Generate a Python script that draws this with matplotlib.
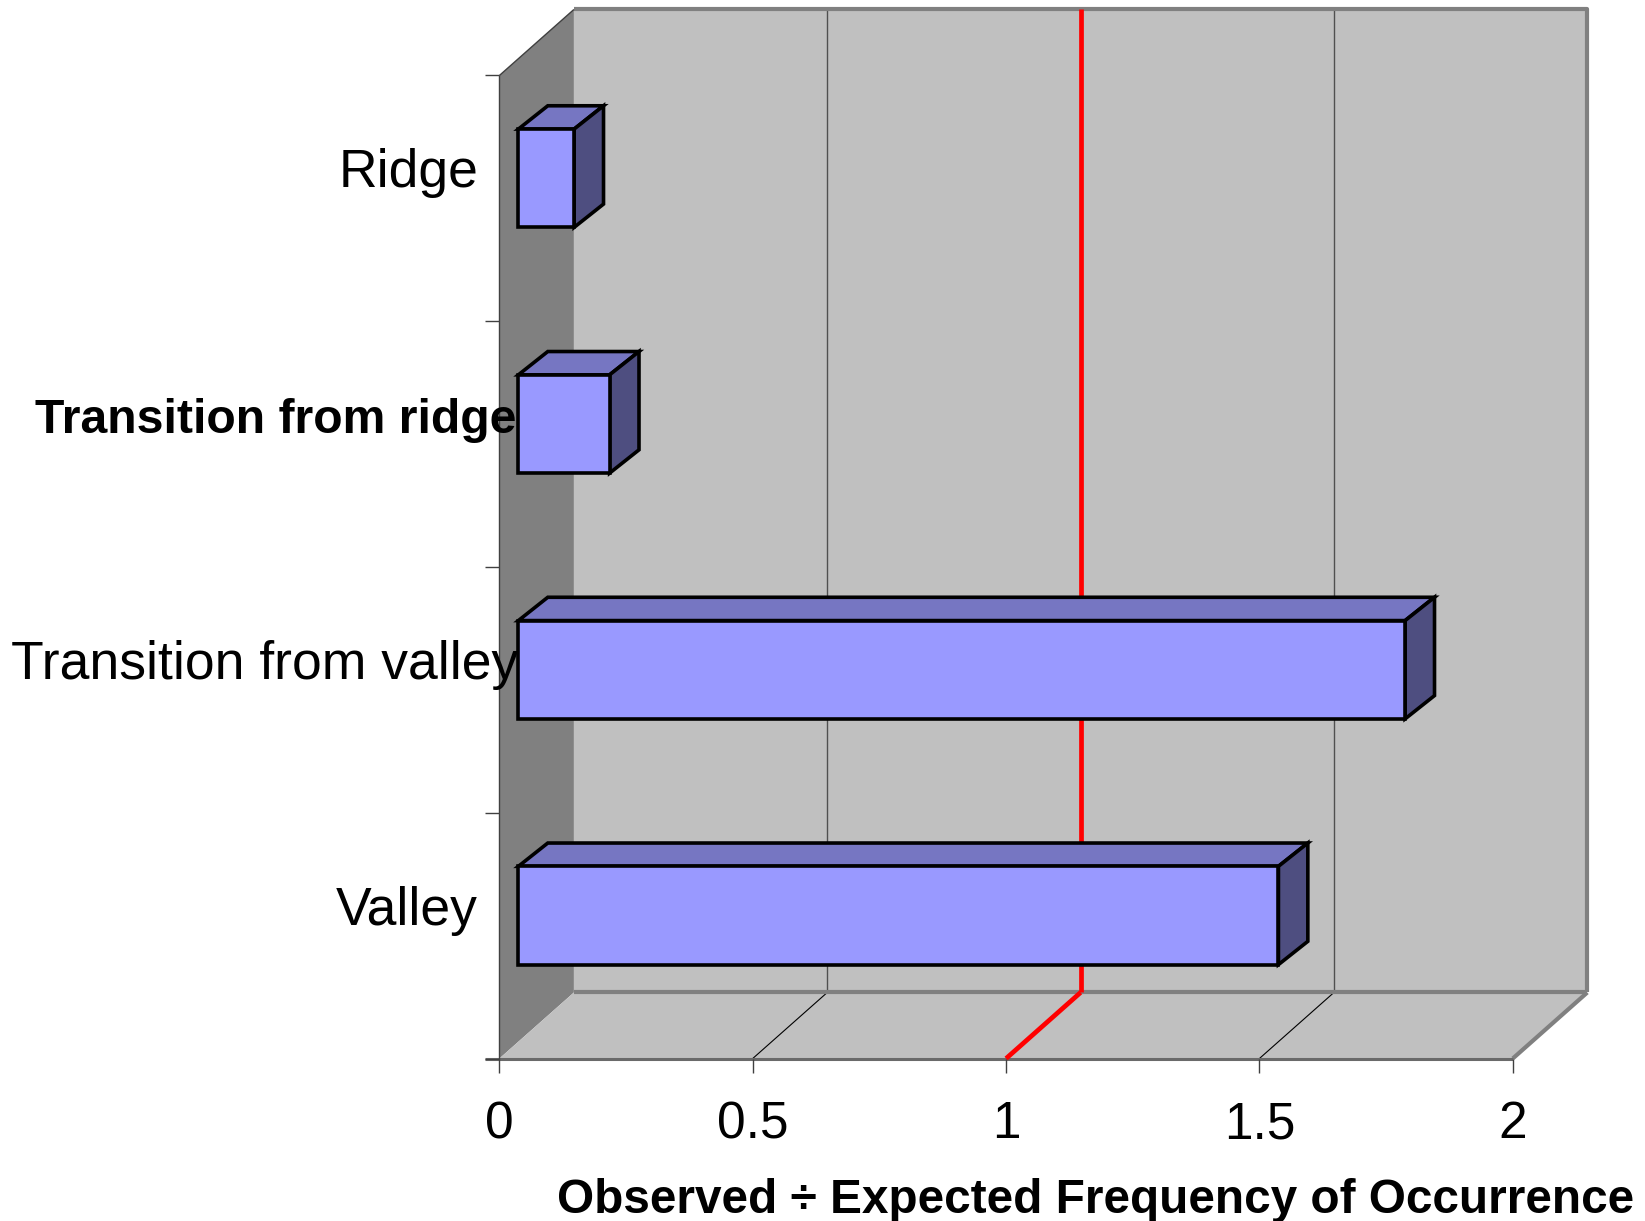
import matplotlib
matplotlib.use('Agg')
import matplotlib.pyplot as plt
from matplotlib.patches import Polygon

categories = ['Valley', 'Transition from valley', 'Transition from ridge', 'Ridge']
ratios = [1.50, 1.75, 0.18, 0.11]
bold_labels = ['Transition from ridge']
xticks = [0, 0.5, 1, 1.5, 2]
xticklabels = ['0', '0.5', '1', '1.5', '2']
ref_value = 1.0
xlabel = 'Observed \u00f7 Expected Frequency of Occurrence'

# box depth, bar depth and bar offset (data units)
DX, DY = 0.147, 0.2686
BX, BY = 0.058, 0.0948
OX, OY = 0.0375, 0.082
BAR_H = 0.40
# right edge of each category label
label_right = [-0.042, 0.037, 0.033, -0.042]

plt.rcParams['font.family'] = ['Liberation Sans', 'DejaVu Sans']
fig = plt.figure(figsize=(16.45, 12.21), dpi=100)
ax = fig.add_axes([0, 0, 1, 1])
ax.set_xlim(-0.98559, 2.26091)
ax.set_ylim(-0.66124, 4.30722)
ax.axis('off')

n = len(categories)
xmax = xticks[-1]


def face(pts, fc, ec='none', lw=0, z=1):
    ax.add_patch(Polygon(pts, closed=True, facecolor=fc, edgecolor=ec,
                         linewidth=lw, joinstyle='miter', zorder=z))


def line(xs, ys, color, lw, z=2):
    ax.plot(xs, ys, color=color, lw=lw, solid_capstyle='butt', zorder=z)


# side wall, back wall, floor
face([(0, 0), (0, n), (DX, n + DY), (DX, DY)], '#808080')
face([(DX, DY), (xmax + DX, DY), (xmax + DX, n + DY), (DX, n + DY)], '#C0C0C0')
face([(0, 0), (xmax, 0), (xmax + DX, DY), (DX, DY)], '#C0C0C0')

# gridlines on wall and floor
for t in xticks[1:-1]:
    if t == ref_value:
        continue
    line([t + DX, t + DX], [DY, n + DY], '#505050', 1.0)
    line([t, t + DX], [0, DY], 'black', 0.8)

# reference line at 1
line([ref_value + DX] * 2, [DY, n + DY], 'red', 3.4, z=3)
line([ref_value, ref_value + DX], [0, DY], 'red', 3.4, z=3)

# box edges
line([DX, xmax + DX, xmax + DX], [n + DY, n + DY, DY], '#808080', 3)
line([DX, xmax + DX], [DY, DY], '#808080', 3)
line([xmax, xmax + DX], [0, DY], '#808080', 3)
line([-0.0276, xmax], [0, 0], '#6a6a6a', 2.2)
line([0, 0], [0, n], '#404040', 1)
line([0, DX], [n, n + DY], '#404040', 1)

# ticks
for i in range(n + 1):
    line([-0.0276, 0], [i, i], '#404040', 1)
for t in xticks:
    line([t, t], [0, -0.057], '#404040', 1)

# 3d bars
for i, v in enumerate(ratios):
    y0 = i + 0.5 + OY - BAR_H / 2
    y1 = y0 + BAR_H
    x0, x1 = OX, OX + v
    top = [(x0, y1), (x1, y1), (x1 + BX, y1 + BY), (x0 + BX, y1 + BY)]
    side = [(x1, y0), (x1 + BX, y0 + BY), (x1 + BX, y1 + BY), (x1, y1)]
    front = [(x0, y0), (x1, y0), (x1, y1), (x0, y1)]
    face(top, '#7676C2', 'black', 2.6, z=5)
    face(side, '#4E4E80', 'black', 2.6, z=5)
    face(front, '#9999FF', 'black', 2.6, z=6)

# labels
for i, (c, xr) in enumerate(zip(categories, label_right)):
    bold = c in bold_labels
    ax.text(xr, i + 0.545, c, ha='right', va='baseline',
            fontsize=34.7 if bold else 38.5,
            fontweight='bold' if bold else 'normal', zorder=10)

for t, lbl in zip(xticks, xticklabels):
    ax.text(t, -0.3248, lbl, ha='center', va='baseline', fontsize=37)

ax.text(0.1131, -0.630, xlabel, ha='left', va='baseline', fontsize=34.4,
        fontweight='bold')

fig.savefig('out.png', dpi=100)
